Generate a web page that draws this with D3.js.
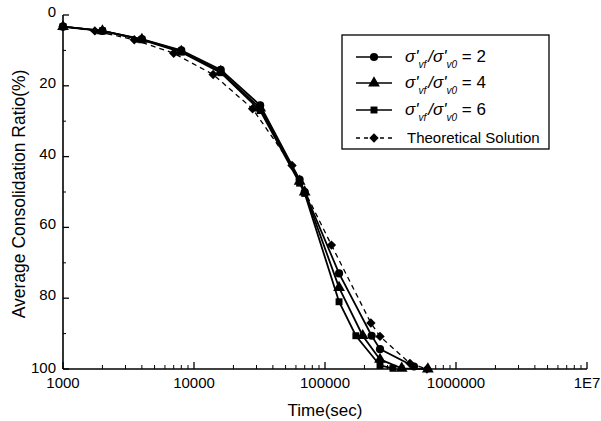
<!DOCTYPE html>
<html>
<head>
<meta charset="utf-8">
<script src="https://cdn.jsdelivr.net/npm/d3@7"></script>
<style>
  body { margin: 0; background: #fff; }
  svg { font-family: Arial, "Liberation Sans", sans-serif; }
</style>
</head>
<body>
<svg id="chart" width="601" height="421"></svg>
<script>
// values: [time (sec), consolidation ratio %]
const ratio2 = [[1000,3.3],[2000,4.5],[4000,6.8],[8000,10.0],[16000,15.5],[32000,25.5],[64000,46.5],[70000,50],[128000,73],[227000,90.6],[263000,94.4],[478000,99.3]];
const ratio4 = [[1000,3.3],[2000,4.5],[4000,6.9],[8000,10.3],[16000,16.0],[32000,26.3],[64000,47],[70000,50],[128000,77],[194000,90.6],[263000,97.3],[385000,99.8],[610000,100]];
const ratio6 = [[1000,3.3],[2000,4.5],[4000,7.0],[8000,10.5],[16000,16.3],[32000,27.0],[64000,47.5],[70000,50.4],[128000,81],[172000,90.6],[263000,99],[330000,99.8]];
const theory = [[1000,3.3],[1750,4.5],[3500,7.0],[7000,10.8],[14000,16.8],[28000,26.5],[56000,42.5],[112000,65],[224000,87],[263000,90.8],[445000,98.4],[600000,100]];

const xTicks = [1000, 10000, 100000, 1000000, 10000000];
const xTickLabels = ["1000", "10000", "100000", "1000000", "1E7"];
const yTicks = [0, 20, 40, 60, 80, 100];
const legendLabels = ["2", "4", "6"];

const svg = d3.select("#chart");
const x = d3.scaleLog().domain([1000, 1e7]).range([63, 587]);
const y = d3.scaleLinear().domain([0, 100]).range([15, 369]);

// axes (left + bottom only)
svg.append("line").attr("x1", 63).attr("x2", 63).attr("y1", y(0)).attr("y2", y(100))
  .attr("stroke", "#000").attr("stroke-width", 1.6);
svg.append("line").attr("x1", 63).attr("x2", x(1e7)).attr("y1", y(100)).attr("y2", y(100))
  .attr("stroke", "#000").attr("stroke-width", 1.6);

// x ticks: decades + minor 2..9
const minor = [];
for (let d = 1000; d < 1e7; d *= 10) for (let k = 2; k <= 9; k++) minor.push(d * k);
svg.selectAll(".xminor").data(minor).join("line")
  .attr("x1", d => x(d)).attr("x2", d => x(d)).attr("y1", y(100)).attr("y2", y(100) - 4)
  .attr("stroke", "#000").attr("stroke-width", 1);
svg.selectAll(".xmajor").data(xTicks).join("line")
  .attr("x1", d => x(d)).attr("x2", d => x(d)).attr("y1", y(100)).attr("y2", y(100) - 7)
  .attr("stroke", "#000").attr("stroke-width", 1.3);
svg.selectAll(".xlab").data(xTicks).join("text")
  .attr("x", d => x(d)).attr("y", y(100) + 19)
  .attr("text-anchor", "middle").attr("font-size", 15)
  .text((d, i) => xTickLabels[i]);

// y ticks
svg.selectAll(".ymajor").data(yTicks).join("line")
  .attr("x1", 63).attr("x2", 69).attr("y1", d => y(d)).attr("y2", d => y(d))
  .attr("stroke", "#000").attr("stroke-width", 1.3);
svg.selectAll(".yminor").data([10, 30, 50, 70, 90]).join("line")
  .attr("x1", 63).attr("x2", 66).attr("y1", d => y(d)).attr("y2", d => y(d))
  .attr("stroke", "#000").attr("stroke-width", 1);
svg.selectAll(".ylab").data(yTicks).join("text")
  .attr("x", 56).attr("y", d => y(d) + (d === 100 ? 0 : -2))
  .attr("text-anchor", "end").attr("dominant-baseline", "middle").attr("font-size", 15)
  .text(d => d);

// axis titles
svg.append("text").attr("x", 325).attr("y", 416).attr("text-anchor", "middle")
  .attr("font-size", 17).text("Time(sec)");
svg.append("text").attr("transform", "translate(25,194) rotate(-90)")
  .attr("text-anchor", "middle").attr("font-size", 17.5).text("Average Consolidation Ratio(%)");

// series
const line = d3.line().x(d => x(d[0])).y(d => y(d[1]));
const sym = {
  circle: d3.symbol().type(d3.symbolCircle).size(52),
  triangle: d3.symbol().type(d3.symbolTriangle).size(60),
  square: d3.symbol().type(d3.symbolSquare).size(48),
  diamond: d3.symbol().type(d3.symbolSquare).size(44)
};
const rot = s => s === "diamond" ? " rotate(45)" : "";
const series = [
  { data: ratio2, shape: "circle", dash: null },
  { data: ratio4, shape: "triangle", dash: null },
  { data: ratio6, shape: "square", dash: null },
  { data: theory, shape: "diamond", dash: "5,4" }
];
series.forEach(s => {
  svg.append("path").datum(s.data).attr("d", line)
    .attr("fill", "none").attr("stroke", "#000")
    .attr("stroke-width", s.dash ? 1.3 : 1.8)
    .attr("stroke-dasharray", s.dash);
  svg.selectAll(null).data(s.data).join("path")
    .attr("d", sym[s.shape])
    .attr("transform", d => `translate(${x(d[0])},${y(d[1])})` + rot(s.shape))
    .attr("fill", "#000");
});

// legend
const lg = svg.append("g");
lg.append("rect").attr("x", 342).attr("y", 35).attr("width", 207).attr("height", 114)
  .attr("fill", "#fff").attr("stroke", "#000").attr("stroke-width", 1.3);
const rows = [57, 83, 110, 138];
series.forEach((s, i) => {
  lg.append("line").attr("x1", 356).attr("x2", 392).attr("y1", rows[i]).attr("y2", rows[i])
    .attr("stroke", "#000").attr("stroke-width", s.dash ? 1.3 : 1.6)
    .attr("stroke-dasharray", s.dash ? "4,4" : null);
  lg.append("path").attr("d", sym[s.shape])
    .attr("transform", `translate(374,${rows[i]})` + rot(s.shape))
    .attr("fill", "#000");
});
legendLabels.forEach((v, i) => {
  const t = lg.append("text").attr("x", 405).attr("y", rows[i] + 5).attr("font-size", 17);
  t.append("tspan").attr("font-style", "italic").text("σ'");
  t.append("tspan").attr("font-style", "italic").attr("font-size", 10).attr("dy", 6).text("vf");
  t.append("tspan").attr("dy", -6).attr("dx", 2).attr("font-style", "italic").text("/σ'");
  t.append("tspan").attr("font-style", "italic").attr("font-size", 10).attr("dy", 6).text("v0");
  t.append("tspan").attr("dy", -6).text(" = " + v);
});
lg.append("text").attr("x", 407).attr("y", rows[3] + 5).attr("font-size", 15)
  .text("Theoretical Solution");
</script>
</body>
</html>
